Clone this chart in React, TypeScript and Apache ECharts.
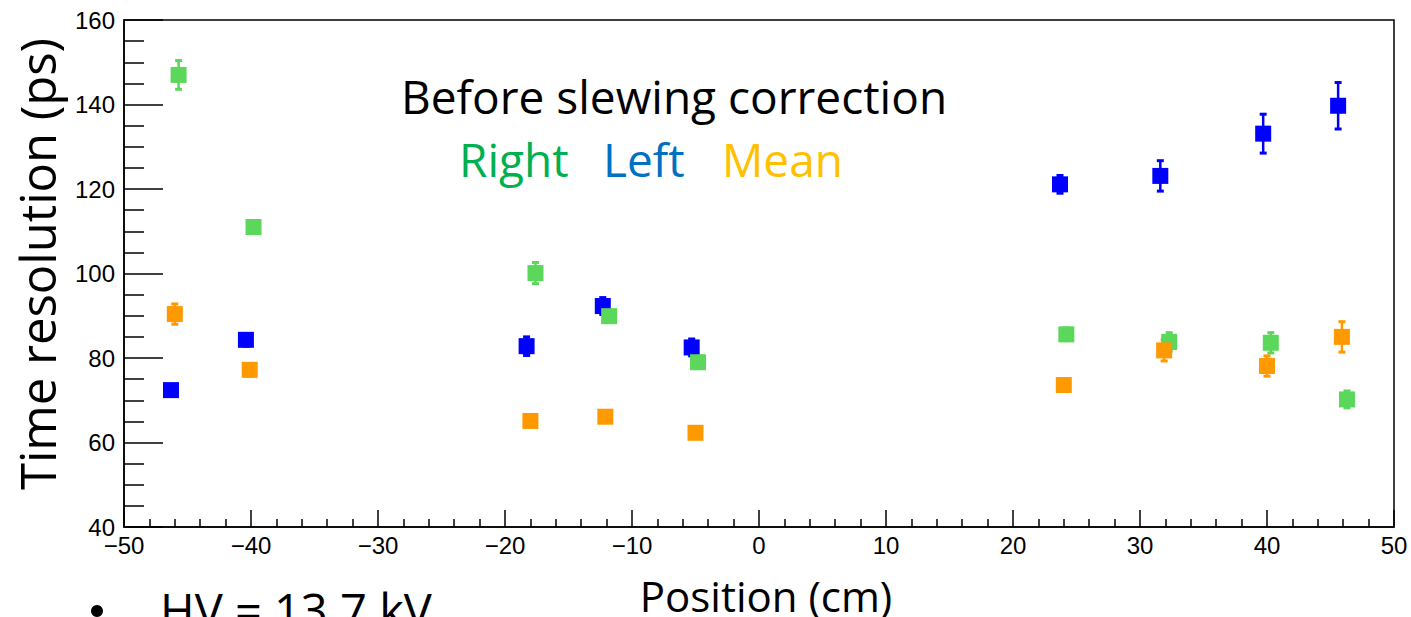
import React, { useEffect, useRef } from "react";
import * as echarts from "echarts";

// Right (green)
const rightX = [-45.7, -39.8, -17.6, -11.8, -4.8, 24.2, 32.3, 40.3, 46.3];
const rightY = [147.0, 111.0, 100.1, 89.9, 79.0, 85.6, 83.8, 83.6, 70.2];
const rightErr = [3.4, 1.5, 2.5, 1.5, 1.5, 1.5, 2.2, 2.4, 2.0];
// Left (blue)
const leftX = [-46.3, -40.4, -18.3, -12.3, -5.3, 23.7, 31.6, 39.7, 45.6];
const leftY = [72.4, 84.3, 82.8, 92.3, 82.5, 121.1, 123.1, 133.1, 139.7];
const leftErr = [1.2, 1.5, 2.2, 2.0, 2.0, 2.1, 3.6, 4.6, 5.5];
// Mean (orange)
const meanX = [-46.0, -40.1, -18.0, -12.1, -5.0, 24.0, 31.9, 40.0, 45.9];
const meanY = [90.4, 77.2, 65.1, 66.1, 62.3, 73.6, 81.8, 78.1, 85.0];
const meanErr = [2.4, 1.5, 1.2, 1.2, 1.2, 1.5, 2.5, 2.4, 3.6];

const xMin = -50, xMax = 50, xStep = 10;
const yMin = 40, yMax = 160, yStep = 20;

const titleText = "Before slewing correction";
const legendNames = ["Right", "Left", "Mean"];
const xTitle = "Position (cm)";
const yTitle = "Time resolution (ps)";
const noteText = "HV = 13.7 kV";

const GREEN = "#5bd75b";
const BLUE = "#0000ff";
const ORANGE = "#ff9900";

function errSeries(xs: number[], ys: number[], es: number[], color: string) {
  return {
    type: "custom",
    encode: { x: 0, y: 1 },
    data: xs.map((x, i) => [x, ys[i], es[i]]),
    renderItem: (_p: any, api: any) => {
      const x = api.value(0), y = api.value(1), e = api.value(2);
      const t = api.coord([x, y + e]);
      const b = api.coord([x, y - e]);
      return {
        type: "group",
        children: [
          { type: "line", shape: { x1: t[0], y1: t[1], x2: b[0], y2: b[1] }, style: { stroke: color, lineWidth: 2.5 } },
          { type: "rect", shape: { x: t[0] - 3.5, y: t[1] - 1.5, width: 7, height: 3 }, style: { fill: color } },
          { type: "rect", shape: { x: b[0] - 3.5, y: b[1] - 1.5, width: 7, height: 3 }, style: { fill: color } },
        ],
      };
    },
  };
}

function markSeries(xs: number[], ys: number[], color: string) {
  return {
    type: "scatter",
    symbol: "rect",
    symbolSize: 16,
    data: xs.map((x, i) => [x, ys[i]]),
    itemStyle: { color, opacity: 1 },
  };
}

const minus = (v: number) => String(v).replace("-", "\u2212");

export default function App() {
  const ref = useRef<HTMLDivElement>(null);
  useEffect(() => {
    document.body.style.margin = "0";
    const chart = echarts.init(ref.current!, undefined, { renderer: "svg" });
    const calibri = "'Open Sans', Lato, sans-serif";
    chart.setOption({
      animation: false,
      backgroundColor: "#fff",
      grid: { left: 124, right: 17, top: 20, bottom: 90, show: true, borderColor: "#000", borderWidth: 1.5 },
      xAxis: {
        type: "value",
        min: xMin,
        max: xMax,
        interval: xStep,
        axisLine: { onZero: false, lineStyle: { color: "#000", width: 1.5 } },
        axisTick: { inside: true, length: 17, lineStyle: { color: "#000", width: 1.5 } },
        minorTick: { show: true, splitNumber: 5, length: 8, lineStyle: { color: "#000", width: 1.5 } },
        splitLine: { show: false },
        axisLabel: { color: "#000", fontSize: 24, fontFamily: "'Liberation Sans', Arial", margin: 6, formatter: minus },
      },
      yAxis: {
        type: "value",
        min: yMin,
        max: yMax,
        interval: yStep,
        axisLine: { onZero: false, lineStyle: { color: "#000", width: 1.5 } },
        axisTick: { inside: true, length: 39, lineStyle: { color: "#000", width: 1.5 } },
        minorTick: { show: true, splitNumber: 4, length: 20, lineStyle: { color: "#000", width: 1.5 } },
        splitLine: { show: false },
        axisLabel: { color: "#000", fontSize: 24, fontFamily: "'Liberation Sans', Arial", margin: 9 },
      },
      graphic: [
        { type: "text", left: 401, top: 73, style: { text: titleText, fontSize: 46, fontFamily: calibri, fill: "#000" } },
        { type: "text", left: 459, top: 136, style: { text: legendNames[0], fontSize: 46, fontFamily: calibri, fill: "#00b050" } },
        { type: "text", left: 603, top: 136, style: { text: legendNames[1], fontSize: 46, fontFamily: calibri, fill: "#0070c0" } },
        { type: "text", left: 722, top: 136, style: { text: legendNames[2], fontSize: 46, fontFamily: calibri, fill: "#ffc000" } },
        { type: "text", x: 766, y: 595, style: { text: xTitle, fontSize: 42, fontFamily: calibri, fill: "#000", align: "center", verticalAlign: "middle" } },
        { type: "text", x: 37, y: 264, rotation: Math.PI / 2, style: { text: yTitle, fontSize: 49, fontFamily: calibri, fill: "#000", align: "center", verticalAlign: "middle" } },
        { type: "circle", shape: { cx: 97, cy: 611, r: 6 }, style: { fill: "#000" } },
        { type: "text", left: 160, top: 586, style: { text: noteText, fontSize: 47, fontFamily: calibri, fill: "#000" } },
      ],
      series: [
        errSeries(leftX, leftY, leftErr, BLUE),
        markSeries(leftX, leftY, BLUE),
        errSeries(rightX, rightY, rightErr, GREEN),
        markSeries(rightX, rightY, GREEN),
        errSeries(meanX, meanY, meanErr, ORANGE),
        markSeries(meanX, meanY, ORANGE),
      ],
    });
    return () => chart.dispose();
  }, []);
  return <div ref={ref} style={{ width: 1411, height: 617 }} />;
}
